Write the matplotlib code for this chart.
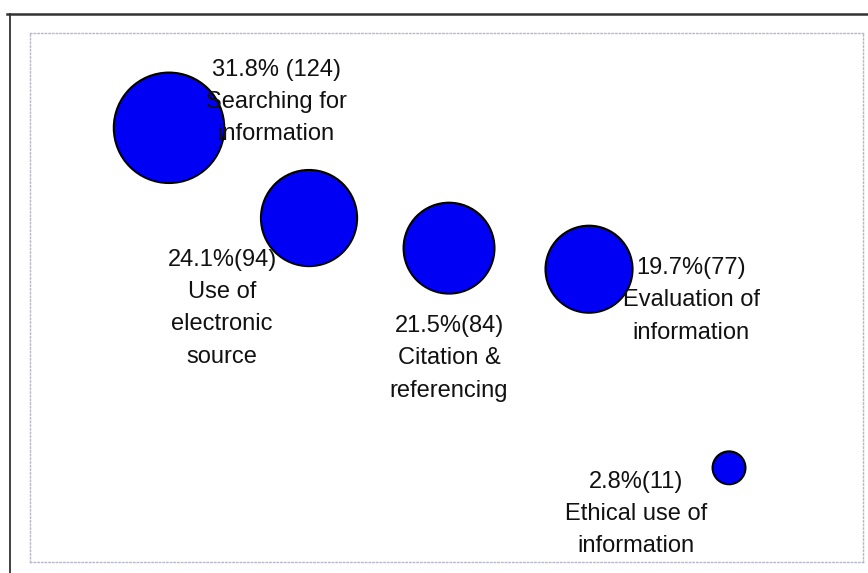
import matplotlib
matplotlib.use("Agg")
import matplotlib.pyplot as plt
from matplotlib.lines import Line2D

# ---- data ----
categories = ["Searching for\ninformation", "Use of\nelectronic\nsource",
              "Citation &\nreferencing", "Evaluation of\ninformation",
              "Ethical use of\ninformation"]
counts = [124, 94, 84, 77, 11]
percents = ["31.8% (124)", "24.1%(94)", "21.5%(84)", "19.7%(77)", "2.8%(11)"]
positions = [1, 2, 3, 4, 5]

# label offsets (pixels) from bubble centre
label_offsets = [(107, 69), (-87, -31), (0, -67), (102, 12), (-93, -3)]

plt.rcParams['font.family'] = ['Liberation Sans', 'DejaVu Sans']

fig = plt.figure(figsize=(8.68, 5.73), dpi=100)
W, H = 868, 573
ax = fig.add_axes([30 / W, (H - 562) / H, (863 - 30) / W, (562 - 33) / H])

ax.scatter(positions, counts, s=[c * 51 for c in counts], c='#0000f5',
           edgecolors='black', linewidths=1.5, zorder=2)

for x, y, cat, pct, (dx, dy) in zip(positions, counts, categories, percents, label_offsets):
    ax.annotate(pct + "\n" + cat, xy=(x, y), xytext=(dx, dy),
                textcoords='offset pixels', ha='center', va='top',
                fontsize=17, color='#111111', linespacing=1.6,
                multialignment='center', zorder=3)

ax.set_xlim(0.007, 5.957)
ax.set_ylim(-20.3, 155.5)
ax.set_xticks([])
ax.set_yticks([])
for sp in ax.spines.values():
    sp.set_linestyle(':')
    sp.set_color('#b8b8c8')
    sp.set_linewidth(1.0)

# outer frame lines
fig.add_artist(Line2D([7 / W, 1.0], [(H - 14) / H, (H - 14) / H], color='#333333', lw=1.8))
fig.add_artist(Line2D([10 / W, 10 / W], [0, (H - 14) / H], color='#333333', lw=1.3))

fig.savefig("out.png", dpi=100)
